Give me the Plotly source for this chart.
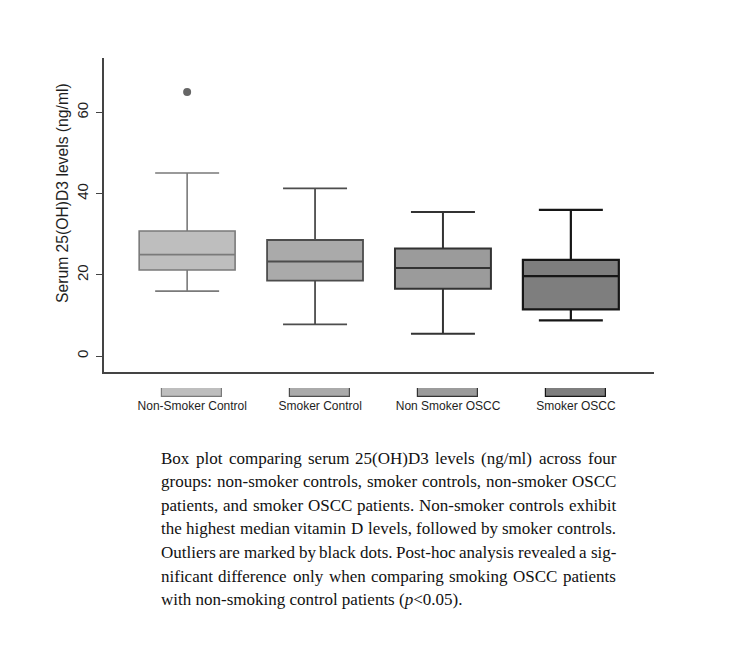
import plotly.graph_objects as go

# ---------------- data ----------------
groups = ["Non-Smoker Control", "Smoker Control", "Non Smoker OSCC", "Smoker OSCC"]
q1_vals = [21.2, 18.6, 16.6, 11.5]
median_vals = [25.0, 23.3, 21.7, 19.7]
q3_vals = [30.8, 28.6, 26.5, 23.7]
lower_vals = [16.0, 7.8, 5.5, 8.8]
upper_vals = [45.1, 41.3, 35.5, 36.0]
outlier_group = ["Non-Smoker Control"]
outlier_vals = [65.0]
y_ticks = [0, 20, 40, 60]

fill_colors = ["#bebebe", "#aaaaaa", "#9b9b9b", "#7e7e7e"]
line_colors = ["#7a7a7a", "#4d4d4d", "#333333", "#161616"]

caption_lines = [
    "Box plot comparing serum 25(OH)D3 levels (ng/ml) across four",
    "groups: non-smoker controls, smoker controls, non-smoker OSCC",
    "patients, and smoker OSCC patients. Non-smoker controls exhibit",
    "the highest median vitamin D levels, followed by smoker controls.",
    "Outliers are marked by black dots. Post-hoc analysis revealed a sig-",
    "nificant difference only when comparing smoking OSCC patients",
    "with non-smoking control patients (p<0.05).",
]

# ---------------- layout helpers ----------------
OFFX, OFFY = 7, 8            # page body margin as observed
W, H = 736 - 2 * OFFX, 659 - 2 * OFFY
ML, MT, MB = 103 - OFFX, 58 - OFFY, 6
MR = W - (653 - OFFX)
PW, PH = W - ML - MR, H - MT - MB


def px_y(p):
    """reference pixel row -> paper y"""
    return (H - MB - (p - OFFY)) / PH


def px_x(p):
    """reference pixel column -> paper x"""
    return (p - OFFX - ML) / PW


# Times (Liberation Serif) advance widths per 1000 em
TW = {" ": 250, "a": 444, "b": 500, "c": 444, "d": 500, "e": 444, "f": 333, "g": 500,
      "h": 500, "i": 278, "j": 278, "k": 500, "l": 278, "m": 778, "n": 500, "o": 500,
      "p": 500, "q": 500, "r": 333, "s": 389, "t": 278, "u": 500, "v": 500, "w": 722,
      "x": 500, "y": 500, "z": 444, "A": 722, "B": 667, "C": 667, "D": 722, "E": 611,
      "F": 556, "G": 722, "H": 722, "I": 333, "J": 389, "K": 722, "L": 611, "M": 889,
      "N": 722, "O": 722, "P": 556, "Q": 722, "R": 667, "S": 556, "T": 611, "U": 722,
      "V": 722, "W": 944, "X": 722, "Y": 722, "Z": 611, "(": 333, ")": 333, "/": 278,
      ".": 250, ",": 250, "-": 333, ":": 278, "<": 564}
CAP_SIZE = 17
CAP_LEFT, CAP_RIGHT = 158, 613
CAP_TOP, CAP_STEP = 458, 23.65


def text_width(s):
    return sum(TW.get(c, 500) for c in s) * CAP_SIZE / 1000.0


fig = go.Figure()

for i, g in enumerate(groups):
    fig.add_trace(go.Box(
        x=[g], q1=[q1_vals[i]], median=[median_vals[i]], q3=[q3_vals[i]],
        lowerfence=[lower_vals[i]], upperfence=[upper_vals[i]],
        width=0.75, whiskerwidth=0.667, boxpoints=False,
        fillcolor=fill_colors[i], line=dict(color=line_colors[i], width=1.6 + 0.2 * i),
        showlegend=False, hoverinfo="skip", xaxis="x", yaxis="y",
    ))

fig.add_trace(go.Scatter(
    x=outlier_group, y=outlier_vals, mode="markers",
    marker=dict(size=8, color="#666666"), showlegend=False, xaxis="x", yaxis="y",
))

# legend swatches as a small category subplot
for i, g in enumerate(groups):
    fig.add_trace(go.Bar(
        x=[g], y=[1], width=0.47, marker=dict(color=fill_colors[i],
                                             line=dict(color=line_colors[i], width=1.2)),
        showlegend=False, hoverinfo="skip", xaxis="x2", yaxis="y2",
    ))

annotations = []
cap_font = dict(family="Liberation Serif", size=CAP_SIZE, color="#111111")
for k, line in enumerate(caption_lines):
    y = px_y(CAP_TOP + CAP_STEP * k)
    if k == len(caption_lines) - 1:
        txt = line.replace("<", "&lt;").replace("(p&lt;", "(<i>p</i>&lt;")
        annotations.append(dict(text=txt, x=px_x(CAP_LEFT), y=y, xref="paper", yref="paper",
                                xanchor="left", yanchor="middle", showarrow=False, font=cap_font))
        continue
    words = line.split(" ")
    wsum = sum(text_width(w) for w in words)
    gap = (CAP_RIGHT - CAP_LEFT - wsum) / (len(words) - 1)
    xpos = CAP_LEFT
    for w in words:
        annotations.append(dict(text=w, x=px_x(xpos), y=y, xref="paper", yref="paper",
                                xanchor="left", yanchor="middle", showarrow=False,
                                font=cap_font))
        xpos += text_width(w) + gap

annotations.append(dict(
    text="Serum 25(OH)D3 levels (ng/ml)", x=px_x(62), y=px_y(193), xref="paper", yref="paper",
    xanchor="center", yanchor="middle", textangle=-90, showarrow=False,
    font=dict(family="Liberation Sans", size=15.7, color="#1e1e1e"),
))

fig.update_layout(
    width=W, height=H, margin=dict(l=ML, r=MR, t=MT, b=MB),
    paper_bgcolor="white", plot_bgcolor="white", bargap=0,
    xaxis=dict(domain=[0, 1], range=[-0.65, 3.65], showticklabels=False, ticks="",
               showline=True, linecolor="#444444", linewidth=1.6, showgrid=False,
               zeroline=False, anchor="y", categoryorder="array", categoryarray=groups),
    yaxis=dict(domain=[px_y(372), 1], range=[-3.9, 73.4], tickvals=y_ticks,
               ticks="outside", ticklen=6, tickwidth=1.3, tickcolor="#444444",
               tickangle=-90, ticklabelstandoff=2,
               tickfont=dict(family="Liberation Sans", size=15, color="#1e1e1e"),
               showline=True, linecolor="#444444", linewidth=1.6, showgrid=False,
               zeroline=False, anchor="x"),
    xaxis2=dict(domain=[0, 1], range=[-0.69, 3.61], anchor="y2", ticks="", ticklen=0,
                showline=False, showgrid=False, zeroline=False,
                categoryorder="array", categoryarray=groups,
                tickfont=dict(family="Liberation Sans", size=12, color="#1e1e1e")),
    yaxis2=dict(domain=[px_y(397), px_y(388)], range=[0, 1], visible=False, anchor="x2"),
    annotations=annotations,
)

fig.write_html("out.html")
